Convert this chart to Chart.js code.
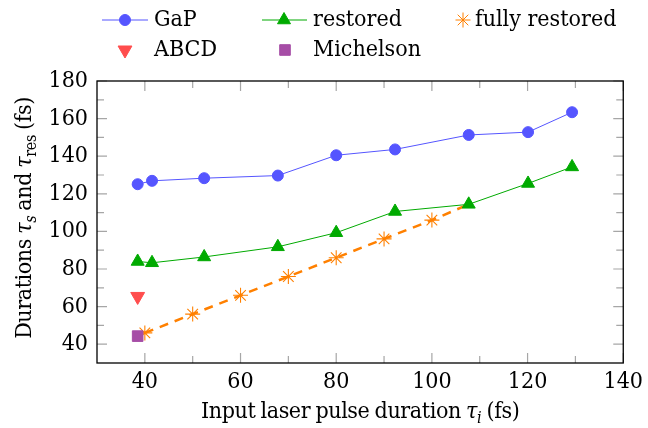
<!DOCTYPE html>
<html>
<head>
<meta charset="utf-8">
<script src="https://cdn.jsdelivr.net/npm/chart.js@4.4.0/dist/chart.umd.min.js"></script>
<style>
  html, body { margin: 0; padding: 0; background: #fff; }
</style>
</head>
<body>
<canvas id="durations" width="648" height="428"></canvas>
<script>
// input pulse durations (fs) of the measured points
var xMeasured = [38.5, 41.5, 52.4, 67.8, 80.0, 92.3, 107.7, 120.1, 129.3];
var gapValues = [125.1, 126.9, 128.3, 129.7, 140.5, 143.6, 151.3, 152.8, 163.4];
var restoredValues = [84.0, 83.3, 86.4, 91.8, 99.3, 110.6, 114.4, 125.5, 134.3];
// fully restored curve, last point has no marker
var xFully = [40, 50, 60, 70, 80, 90, 100, 107.7];
var fullyValues = [46, 56, 66, 76, 86, 96, 106, 114.4];
var abcdPoint = [38.5, 65.4];
var michelsonPoint = [38.5, 44.3];
var xTicks = [40, 60, 80, 100, 120, 140];
var yTicks = [40, 60, 80, 100, 120, 140, 160, 180];

var FONT = '"DejaVu Serif Condensed", "DejaVu Serif"';
var FSIZE = 23;
var blue = 'rgb(85,85,255)', green = 'rgb(0,170,0)', orange = 'rgb(255,128,0)';
var red = 'rgb(255,77,77)', violet = 'rgb(166,77,166)';

function pairs(xs, ys) {
    return xs.map(function(x, i) { return {x: x, y: ys[i]}; });
}

function partFont(p, size) {
    var s = p.sub ? Math.round(size * 0.7) : size;
    return (p.it ? 'italic ' : '') + s + 'px ' + FONT;
}

// draws text made of parts (italic / subscript), centred on cx
function drawRich(ctx, parts, cx, baseline, size) {
    var w = 0;
    parts.forEach(function(p) { ctx.font = partFont(p, size); w += ctx.measureText(p.t).width; });
    var x = cx - w / 2;
    parts.forEach(function(p) {
        ctx.font = partFont(p, size);
        ctx.fillText(p.t, x, baseline + (p.sub ? size * 0.22 : 0));
        x += ctx.measureText(p.t).width;
    });
}

var xTitle = [{t: 'Input laser pulse duration '}, {t: 'τ', it: true}, {t: 'i', it: true, sub: true}, {t: ' (fs)'}];
var yTitle = [{t: 'Durations '}, {t: 'τ', it: true}, {t: 's', it: true, sub: true}, {t: ' and '},
              {t: 'τ', it: true}, {t: 'res', sub: true}, {t: ' (fs)'}];

// legend cells: dataset index, line sample, marker x, text x, row y
var legendCells = [
    {ds: 0, line: [102, 148], mark: 125, text: 154, y: 20},
    {ds: 1, line: [262, 307], mark: 284, text: 313, y: 20},
    {ds: 2, line: null, mark: 463, text: 475, y: 20},
    {ds: 3, line: null, mark: 125, text: 154, y: 50},
    {ds: 4, line: null, mark: 285, text: 313, y: 50}
];

var pgfDecor = {
    id: 'pgfDecor',
    beforeDatasetsDraw: function(chart) {
        var ctx = chart.ctx, a = chart.chartArea;
        var sx = chart.scales.x, sy = chart.scales.y;
        ctx.save();
        ctx.strokeStyle = '#a6a6a6';
        ctx.lineWidth = 1.2;
        function tickX(v, len) {
            var px = sx.getPixelForValue(v);
            ctx.beginPath();
            ctx.moveTo(px, a.bottom); ctx.lineTo(px, a.bottom - len);
            ctx.moveTo(px, a.top); ctx.lineTo(px, a.top + len);
            ctx.stroke();
        }
        function tickY(v, len) {
            var py = sy.getPixelForValue(v);
            ctx.beginPath();
            ctx.moveTo(a.left, py); ctx.lineTo(a.left + len, py);
            ctx.moveTo(a.right, py); ctx.lineTo(a.right - len, py);
            ctx.stroke();
        }
        xTicks.forEach(function(v, i) {
            tickX(v, 10);
            if (i > 0) tickX((v + xTicks[i - 1]) / 2, 7);
        });
        yTicks.forEach(function(v, i) {
            tickY(v, 10);
            if (i > 0) tickY((v + yTicks[i - 1]) / 2, 7);
        });
        ctx.strokeStyle = '#000';
        ctx.lineWidth = 1.3;
        ctx.strokeRect(a.left, a.top, a.right - a.left, a.bottom - a.top);
        ctx.restore();
    },
    afterDraw: function(chart) {
        var ctx = chart.ctx, a = chart.chartArea;
        ctx.save();
        ctx.fillStyle = '#000';
        ctx.textAlign = 'left';
        ctx.textBaseline = 'alphabetic';
        ctx.letterSpacing = '-0.4px';
        ctx.wordSpacing = '-1px';
        drawRich(ctx, xTitle, (a.left + a.right) / 2, 418, FSIZE);
        ctx.save();
        ctx.translate(31, (a.top + a.bottom) / 2 - 4);
        ctx.rotate(-Math.PI / 2);
        drawRich(ctx, yTitle, 0, 0, FSIZE);
        ctx.restore();
        ctx.letterSpacing = '0px';
        ctx.wordSpacing = '0px';

        // legend
        legendCells.forEach(function(c) {
            var ds = chart.data.datasets[c.ds];
            if (c.line) {
                ctx.strokeStyle = ds.borderColor;
                ctx.lineWidth = 1;
                ctx.setLineDash([]);
                ctx.beginPath();
                ctx.moveTo(c.line[0], c.y); ctx.lineTo(c.line[1], c.y);
                ctx.stroke();
            }
            ctx.fillStyle = ds.pointBackgroundColor || ds.backgroundColor;
            ctx.strokeStyle = ds.pointBorderColor || ds.borderColor;
            var r = Array.isArray(ds.pointRadius) ? ds.pointRadius[0] : ds.pointRadius;
            Chart.helpers.drawPoint(ctx, {
                pointStyle: ds.pointStyle, radius: r,
                rotation: ds.pointRotation || 0, borderWidth: ds.pointBorderWidth
            }, c.mark, c.y);
            ctx.fillStyle = '#000';
            ctx.font = FSIZE + 'px ' + FONT;
            ctx.textBaseline = 'middle';
            ctx.fillText(ds.label, c.text, c.y);
        });
        ctx.restore();
    }
};

new Chart(document.getElementById('durations'), {
    type: 'scatter',
    data: {
        datasets: [{
            label: 'GaP',
            data: pairs(xMeasured, gapValues),
            showLine: true,
            borderColor: blue,
            backgroundColor: blue,
            borderWidth: 1,
            pointStyle: 'circle',
            pointRadius: 5.5,
            pointBorderWidth: 1,
            order: 3
        }, {
            label: 'restored',
            data: pairs(xMeasured, restoredValues),
            showLine: true,
            borderColor: green,
            backgroundColor: green,
            borderWidth: 1,
            pointStyle: 'triangle',
            pointRadius: 7.5,
            pointBorderWidth: 1,
            order: 2
        }, {
            label: 'fully restored',
            data: pairs(xFully, fullyValues),
            showLine: true,
            borderColor: orange,
            backgroundColor: orange,
            borderWidth: 2.5,
            borderDash: [9, 7],
            pointStyle: 'star',
            pointRadius: fullyValues.map(function(v, i) { return i === fullyValues.length - 1 ? 0 : 7.5; }),
            pointBorderWidth: 1.1,
            order: 4
        }, {
            label: 'ABCD',
            data: [{x: abcdPoint[0], y: abcdPoint[1]}],
            borderColor: red,
            backgroundColor: red,
            pointStyle: 'triangle',
            pointRotation: 180,
            pointRadius: 8,
            pointBorderWidth: 1,
            order: 1
        }, {
            label: 'Michelson',
            data: [{x: michelsonPoint[0], y: michelsonPoint[1]}],
            borderColor: violet,
            backgroundColor: violet,
            pointStyle: 'rect',
            pointRadius: 7.5,
            pointBorderWidth: 1,
            order: 0
        }]
    },
    options: {
        responsive: false,
        animation: false,
        layout: { padding: { top: 81, right: 20, left: 0, bottom: 0 } },
        plugins: { legend: { display: false }, tooltip: { enabled: false } },
        elements: { line: { tension: 0 } },
        scales: {
            x: {
                type: 'linear', min: 30, max: 140,
                afterBuildTicks: function(s) { s.ticks = xTicks.map(function(v) { return {value: v}; }); },
                afterFit: function(s) { s.height = 65; },
                grid: { display: false, drawTicks: false },
                border: { display: false },
                ticks: { font: { family: FONT, size: FSIZE }, color: '#000', padding: 5, maxRotation: 0, autoSkip: false }
            },
            y: {
                type: 'linear', min: 30, max: 180,
                afterBuildTicks: function(s) { s.ticks = yTicks.map(function(v) { return {value: v}; }); },
                afterFit: function(s) { s.width = 97; },
                grid: { display: false, drawTicks: false },
                border: { display: false },
                ticks: { font: { family: FONT, size: FSIZE }, color: '#000', padding: 9, autoSkip: false }
            }
        }
    },
    plugins: [pgfDecor]
});
</script>
</body>
</html>
